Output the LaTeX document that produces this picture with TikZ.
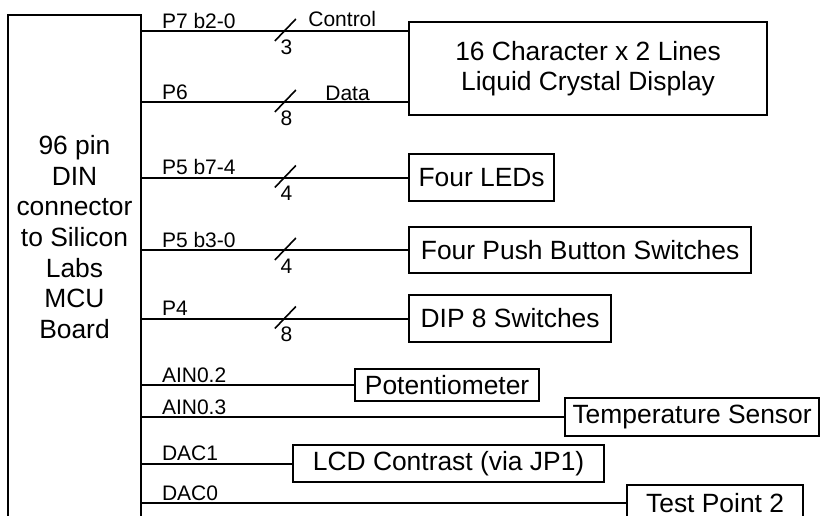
\documentclass[tikz,border=0pt]{standalone}
\usepackage{fontspec}
\setmainfont{Liberation Sans}
\usetikzlibrary{calc}

\begin{document}
\begin{tikzpicture}[
  x=0.5pt,y=-0.5pt,
  every node/.style={align=center,inner sep=0pt},
  box/.style={draw,line width=1.1pt,anchor=west,
              font=\fontsize{13.2}{15}\selectfont},
  lbl/.style={anchor=base west,xshift=9.5pt,yshift=1.5pt,
              font=\fontsize{10.5}{12}\selectfont},
  num/.style={font=\fontsize{10.5}{12}\selectfont},
  wire/.style={line width=1pt},
  tick/.style={line width=0.8pt}
]
\useasboundingbox (0,0) rectangle (820,515);

\node[draw,line width=1pt,minimum width=66.5pt,minimum height=260pt]
  (board) at (74.5,275) {};
\node[anchor=north,font=\fontsize{13.2}{15.33}\selectfont] (boardtxt)
  at (74.5,135) {96 pin\\DIN\\connector\\to Silicon\\Labs\\MCU\\Board};

\node[box,minimum width=179pt,minimum height=46.5pt] (lcd) at (408,68.5)
  {16 Character x 2 Lines\\Liquid Crystal Display};
\node[box,minimum width=72.5pt,minimum height=23.5pt] (led) at (408,177.5)
  {Four LEDs};
\node[box,minimum width=171pt,minimum height=23pt] (btn) at (408,250)
  {Four Push Button Switches};
\node[box,minimum width=101pt,minimum height=23.5pt] (dip) at (408,318.5)
  {DIP 8 Switches};
\node[box,minimum width=92pt,minimum height=16pt] (pot) at (354,385)
  {Potentiometer};
\node[box,minimum width=127pt,minimum height=19pt] (temp) at (564,417)
  {Temperature Sensor};
\node[box,minimum width=155.5pt,minimum height=18.5pt] (lcdc) at (292,463.5)
  {LCD Contrast (via JP1)};
\node[box,minimum width=88pt,minimum height=18pt] (tp) at (626,503)
  {Test Point 2};

\coordinate (ctl) at (lcd.west |- 0,31);
\coordinate (dat) at (lcd.west |- 0,102);

\draw[wire] (board.east |- ctl) node[lbl] {P7 b2-0}
  -- coordinate[pos=.537] (t1) (ctl);
\draw[wire] (board.east |- dat) node[lbl] {P6}
  -- coordinate[pos=.537] (t2) (dat);
\draw[wire] (board.east |- led.west) node[lbl] {P5 b7-4}
  -- coordinate[pos=.537] (t3) (led.west);
\draw[wire] (board.east |- btn.west) node[lbl] {P5 b3-0}
  -- coordinate[pos=.537] (t4) (btn.west);
\draw[wire] (board.east |- dip.west) node[lbl] {P4}
  -- coordinate[pos=.537] (t5) (dip.west);
\draw[wire] (board.east |- pot.west) node[lbl] {AIN0.2} -- (pot.west);
\draw[wire] (board.east |- temp.west) node[lbl] {AIN0.3} -- (temp.west);
\draw[wire] (board.east |- lcdc.west) node[lbl] {DAC1} -- (lcdc.west);
\draw[wire] (board.east |- tp.west) node[lbl] {DAC0} -- (tp.west);

\draw[tick] ($(t1)+(-10,10)$) -- ($(t1)+(11,-12)$);
\draw[tick] ($(t2)+(-10,10)$) -- ($(t2)+(11,-12)$);
\draw[tick] ($(t3)+(-10,10)$) -- ($(t3)+(11,-12)$);
\draw[tick] ($(t4)+(-10,10)$) -- ($(t4)+(11,-12)$);
\draw[tick] ($(t5)+(-10,10)$) -- ($(t5)+(11,-12)$);
\node[num] (n1) at ($(t1)+(1.5,16)$) {3};
\node[num] (n2) at ($(t2)+(1.5,16)$) {8};
\node[num] (n3) at ($(t3)+(1.5,16)$) {4};
\node[num] (n4) at ($(t4)+(1.5,16)$) {4};
\node[num] (n5) at ($(t5)+(1.5,16)$) {8};

\node[num,anchor=base west] (ctllbl) at (308,26) {Control};
\node[num,anchor=base west] (datlbl) at (325,100) {Data};
\end{tikzpicture}
\end{document}
